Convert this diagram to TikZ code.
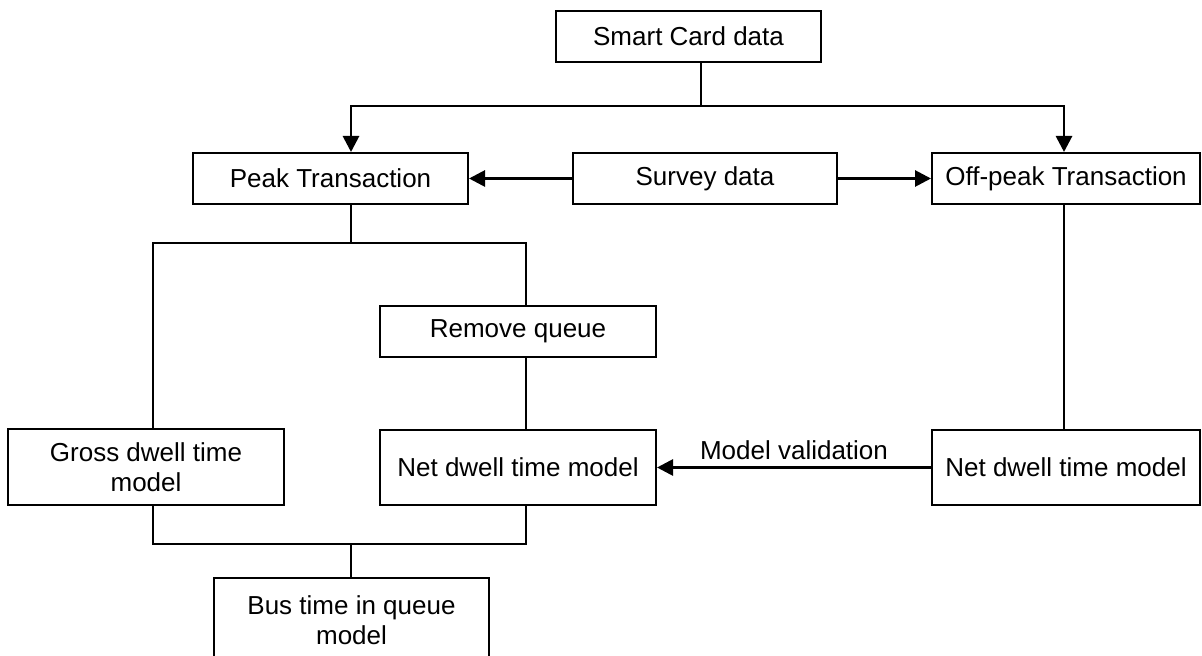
\documentclass[tikz,border=0pt]{standalone}
\usepackage{fontspec}
\setmainfont{Liberation Sans}
\usetikzlibrary{arrows.meta}
\begin{document}
\begin{tikzpicture}[>={Triangle[length=8pt,width=8pt]}, x=.5pt, y=-.5pt,
    box/.style={draw, line width=1pt, inner sep=0pt, align=center, font=\fontsize{13}{15}\selectfont},
    arr/.style={->, line width=1.4pt},
    ln/.style={line width=.9pt}]
\useasboundingbox (0,0) rectangle (1202,656);

\node[box, minimum width=132.5pt, minimum height=25.5pt] (smart) at (688.5,36.5) {Smart Card data};
\node[box, minimum width=137.5pt, minimum height=25.5pt] (peak) at (330.5,178.5) {Peak Transaction};
\node[box, minimum width=132pt, minimum height=25.5pt] (survey) at (705,178.5) {Survey data};
\node[box, minimum width=134pt, minimum height=25.5pt] (offpeak) at (1066,178.5) {Off-peak Transaction};
\node[box, minimum width=138pt, minimum height=25.5pt] (remove) at (518,331.5) {Remove queue};
\node[box, minimum width=138pt, minimum height=38pt] (gross) at (146,467) {Gross dwell time\\model};
\node[box, minimum width=138pt, minimum height=37.5pt] (netpeak) at (518,467.5) {Net dwell time model};
\node[box, minimum width=134pt, minimum height=37.5pt] (netoff) at (1066,467.5) {Net dwell time model};
\node[box, minimum width=137.5pt, minimum height=42pt] (bus) at (351.5,620) {Bus time in queue\\model};

\coordinate (split) at (701,106);
\coordinate (pk) at (351,106);
\coordinate (op) at (1064,106);
\coordinate (pd) at (351,243);
\coordinate (gl) at (153,243);
\coordinate (rl) at (526,243);
\coordinate (bl) at (153,544);
\coordinate (br) at (526,544);
\coordinate (bm) at (351,544);

\draw[ln] (smart.south -| split) -- (split);
\draw[arr] (split) -- (pk) -- (pk |- peak.north);
\draw[arr] (split) -- (op) -- (op |- offpeak.north);
\draw[arr] (survey.west) -- (peak.east);
\draw[arr] (survey.east) -- (offpeak.west);

\draw[ln] (peak.south -| pd) -- (pd);
\draw[ln] (gross.north -| gl) -- (gl) -- (rl) -- (remove.north -| rl);
\draw[ln] (remove.south -| rl) -- (netpeak.north -| rl);
\draw[ln] (offpeak.south -| op) -- (netoff.north -| op);
\draw[arr] (netoff.west) -- node[above, font=\fontsize{13}{15}\selectfont]{Model validation} (netpeak.east);

\draw[ln] (gross.south -| bl) -- (bl) -- (br) -- (netpeak.south -| br);
\draw[ln] (bm) -- (bus.north -| bm);
\end{tikzpicture}
\end{document}
